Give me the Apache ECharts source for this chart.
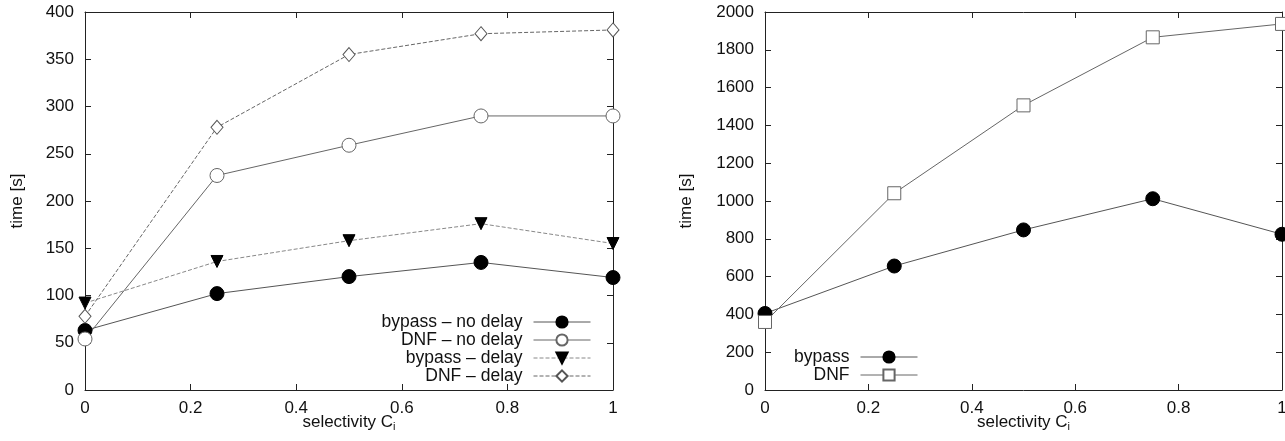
<!DOCTYPE html>
<html><head><meta charset="utf-8">
<script src="https://cdn.jsdelivr.net/npm/echarts@6/dist/echarts.min.js"></script>
<style>html,body{margin:0;padding:0;background:#fff}#c{width:1285px;height:441px}</style>
</head><body><div id="c"></div>
<script>
const selectivity = [0, 0.25, 0.5, 0.75, 1];
const bypassNoDelay = [63, 102, 120, 135, 119];
const dnfNoDelay = [54, 227, 259, 290, 290];
const bypassDelay = [92, 136, 158, 176, 155];
const dnfDelay = [78, 278, 355, 377, 381];
const bypassRight = [405, 656, 847, 1012, 824];
const dnfRight = [360, 1041, 1506, 1866, 1937];
const leftNames = ['bypass \u2013 no delay', 'DNF \u2013 no delay', 'bypass \u2013 delay', 'DNF \u2013 delay'];
const rightNames = ['bypass', 'DNF'];

const FONT = 'Liberation Sans';
const pair = (ys) => selectivity.map((x, i) => [x, ys[i]]);

function xAx(grid, pos, showLabel) {
  return {
    type: 'value', gridIndex: grid, position: pos, min: 0, max: 1, interval: 0.2,
    name: showLabel ? '{n|selectivity C}{s|i}' : '', nameLocation: 'middle', nameGap: 23,
    nameMoveOverlap: false,
    nameTextStyle: { rich: {
      n: { fontFamily: FONT, fontSize: 17, color: '#111', lineHeight: 18 },
      s: { fontFamily: FONT, fontSize: 11, color: '#111', lineHeight: 18, padding: [9, 0, 0, 0] } } },
    axisLine: { show: true, onZero: false, lineStyle: { color: '#222', width: 1 } },
    axisTick: { show: true, inside: true, length: 6, lineStyle: { color: '#222' } },
    axisLabel: { show: showLabel, fontFamily: FONT, fontSize: 17, color: '#111', margin: 10,
      formatter: (v) => String(v) },
    splitLine: { show: false }
  };
}
function yAx(grid, pos, showLabel, max, interval, gap) {
  return {
    type: 'value', gridIndex: grid, position: pos, min: 0, max: max, interval: interval,
    name: showLabel ? 'time [s]' : '', nameLocation: 'middle', nameGap: gap, nameRotate: 90,
    nameMoveOverlap: false,
    nameTextStyle: { fontFamily: FONT, fontSize: 17, color: '#111' },
    axisLine: { show: true, onZero: false, lineStyle: { color: '#222', width: 1 } },
    axisTick: { show: true, inside: true, length: 6, lineStyle: { color: '#222' } },
    axisLabel: { show: showLabel, fontFamily: FONT, fontSize: 17, color: '#111', margin: 11,
      formatter: (v) => String(v) },
    splitLine: { show: false }
  };
}
function ser(name, data, xi, yi, symbol, size, fill, stroke, lineColor, dashed, rotate) {
  return {
    name: name, type: 'line', xAxisIndex: xi, yAxisIndex: yi, data: data,
    symbol: symbol, symbolSize: size, symbolRotate: rotate || 0, showAllSymbol: true,
    clip: false, animation: false,
    itemStyle: { color: fill, borderColor: stroke, borderWidth: 1 },
    lineStyle: { color: lineColor, width: 1, type: dashed ? [4, 2] : 'solid' },
    emphasis: { disabled: true }
  };
}
const legendBase = {
  orient: 'vertical', align: 'right', padding: 0,
  itemWidth: 57, itemHeight: 14, itemGap: 0, selectedMode: false,
  lineStyle: { width: 1 },
  textStyle: { fontFamily: FONT, fontSize: 17.5, lineHeight: 18, color: '#111', padding: [0, 6, 0, 0] }
};
const chart = echarts.init(document.getElementById('c'), null, { renderer: 'canvas' });
chart.setOption({
  backgroundColor: '#fff',
  animation: false,
  grid: [
    { left: 85, top: 12, width: 528, height: 378, containLabel: false, outerBoundsMode: 'none' },
    { left: 765, top: 12, width: 517, height: 378, containLabel: false, outerBoundsMode: 'none' }
  ],
  xAxis: [xAx(0, 'bottom', true), xAx(0, 'top', false), xAx(1, 'bottom', true), xAx(1, 'top', false)],
  yAxis: [yAx(0, 'left', true, 400, 50, 59), yAx(0, 'right', false, 400, 50, 0),
          yAx(1, 'left', true, 2000, 200, 70), yAx(1, 'right', false, 2000, 200, 0)],
  legend: [
    Object.assign({}, legendBase, { data: leftNames, right: 694, top: 313 }),
    Object.assign({}, legendBase, { data: rightNames, right: 367, top: 348 })
  ],
  series: [
    ser(leftNames[0], pair(bypassNoDelay), 0, 0, 'circle', 14, '#000', '#000', '#555', false),
    ser(leftNames[1], pair(dnfNoDelay), 0, 0, 'circle', 14, '#fff', '#666', '#666', false),
    ser(leftNames[2], pair(bypassDelay), 0, 0, 'triangle', 12, '#000', '#000', '#888', true, 180),
    ser(leftNames[3], pair(dnfDelay), 0, 0, 'diamond', [12, 14], '#fff', '#555', '#666', true),
    ser(rightNames[0], pair(bypassRight), 2, 2, 'circle', 14, '#000', '#000', '#555', false),
    ser(rightNames[1], pair(dnfRight), 2, 2, 'rect', 13, '#fff', '#666', '#666', false)
  ]
});
</script></body></html>
